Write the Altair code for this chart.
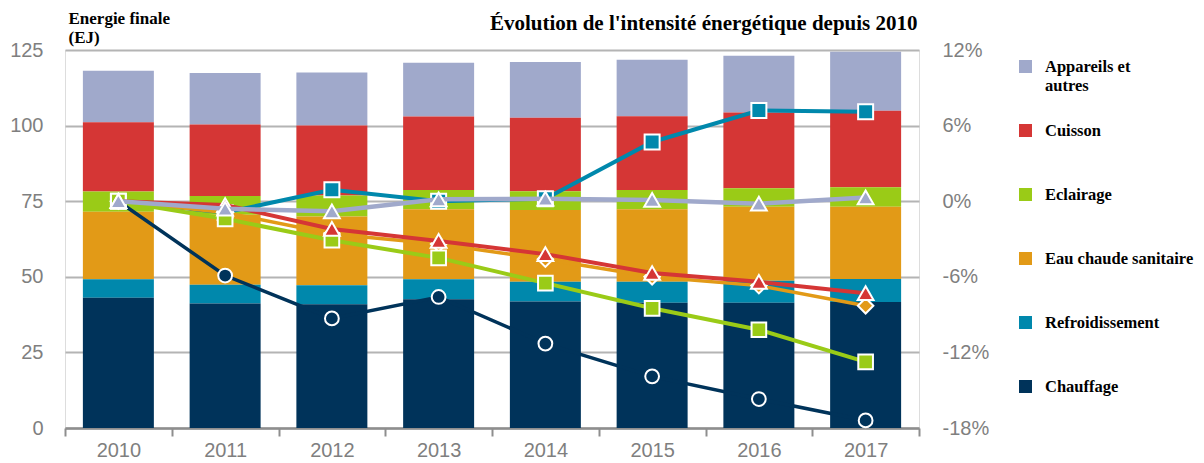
import altair as alt
import pandas as pd

# ---------------- data ----------------
years = ["2010", "2011", "2012", "2013", "2014", "2015", "2016", "2017"]

series = ["Appareils et autres", "Cuisson", "Eclairage",
          "Eau chaude sanitaire", "Refroidissement", "Chauffage"]
legend_text = ["Appareils et\nautres", "Cuisson", "Eclairage",
               "Eau chaude sanitaire", "Refroidissement", "Chauffage"]
colors = ["#a0a9cb", "#d53635", "#9acb17", "#e29a17", "#0088ac", "#00335a"]

# final energy by end use (EJ), stacked bars
appareils_ej = [17.0, 17.0, 17.6, 17.8, 18.4, 18.7, 18.8, 19.5]
cuisson_ej = [22.9, 23.7, 23.1, 24.3, 24.3, 24.4, 25.0, 25.3]
eclairage_ej = [6.7, 6.2, 7.0, 6.4, 6.2, 6.4, 6.1, 6.4]
ecs_ej = [22.3, 23.1, 22.7, 23.1, 23.7, 23.9, 24.5, 23.9]
refroid_ej = [6.1, 6.2, 6.3, 6.6, 6.6, 7.0, 7.3, 7.6]
chauffage_ej = [43.1, 41.2, 40.9, 42.6, 41.8, 41.4, 41.4, 41.7]

# evolution of energy intensity since 2010 (%)
appareils_pct = [0.0, -0.6, -0.8, 0.15, 0.2, 0.1, -0.2, 0.3]
cuisson_pct = [0.0, -0.3, -2.2, -3.15, -4.2, -5.7, -6.4, -7.3]
eclairage_pct = [0.0, -1.4, -3.1, -4.5, -6.5, -8.5, -10.2, -12.75]
ecs_pct = [0.0, -0.9, -2.6, -3.4, -4.6, -6.0, -6.7, -8.3]
refroid_pct = [0.0, -0.9, 0.9, 0.0, 0.2, 4.7, 7.2, 7.1]
chauffage_pct = [0.0, -5.9, -9.3, -7.6, -11.3, -13.9, -15.7, -17.4]

left_ticks = [0, 25, 50, 75, 100, 125]
right_ticks = [-18, -12, -6, 0, 6, 12]

ej_values = [appareils_ej, cuisson_ej, eclairage_ej, ecs_ej, refroid_ej, chauffage_ej]
pct_values = [appareils_pct, cuisson_pct, eclairage_pct, ecs_pct, refroid_pct, chauffage_pct]

# ---------------- styles ----------------
W, H = 854, 378
SANS = "Liberation Sans"
SERIF = "Liberation Serif"
GREY = "#7f7f7f"

rows = []
for k, (name, vals) in enumerate(zip(series, ej_values)):
    for y, v in zip(years, vals):
        rows.append({"year": y, "name": name, "ej": v, "stack": len(series) - k})
bars_df = pd.DataFrame(rows)

color_scale = alt.Scale(domain=series, range=colors)

x_axis = alt.Axis(title=None, grid=False, tickBand="extent", domainColor="#8e8e8e",
                  domainWidth=2.5, tickColor="#8e8e8e", tickWidth=2, tickSize=8,
                  labelFont=SANS, labelFontSize=20, labelColor=GREY, labelPadding=4,
                  labelAngle=0)
x_enc = alt.X("year:N", sort=years, scale=alt.Scale(paddingInner=0, paddingOuter=0),
              axis=x_axis)

bars = alt.Chart(bars_df).mark_bar(width=alt.RelativeBandSize(0.665)).encode(
    x=x_enc,
    y=alt.Y("ej:Q", stack="zero",
            scale=alt.Scale(domain=[0, 125], nice=False),
            axis=alt.Axis(values=left_ticks, orient="left", domain=False, ticks=False,
                          grid=True, gridColor="#b4b4b4", gridWidth=2,
                          labelFont=SANS, labelFontSize=20, labelColor=GREY,
                          labelPadding=22,
                          title=["Energie finale", "(EJ)"], titleAngle=0,
                          titleAlign="left", titleBaseline="alphabetic",
                          titleX=3, titleY=-27, titleFont=SERIF,
                          titleFontWeight="bold", titleFontSize=17,
                          titleLineHeight=19, titleColor="#000000")),
    color=alt.Color("name:N", scale=color_scale, legend=None),
    order=alt.Order("stack:Q"),
)

right_axis = alt.Axis(values=right_ticks, orient="right", domain=False, ticks=False,
                      grid=False, labelExpr="datum.value + '%'",
                      labelFont=SANS, labelFontSize=20, labelColor=GREY,
                      labelPadding=23,
                      title="Évolution de l'intensité énergétique depuis 2010",
                      titleAngle=0, titleAlign="right", titleBaseline="alphabetic",
                      titleX=-2, titleY=-21, titleFont=SERIF, titleFontWeight="bold",
                      titleFontSize=21, titleColor="#000000")
pct_scale = alt.Scale(domain=[-18, 12], nice=False)

# draw order of lines (bottom -> top)
line_order = ["Chauffage", "Refroidissement", "Eau chaude sanitaire",
              "Eclairage", "Cuisson", "Appareils et autres"]
shapes = {"Chauffage": ("circle", 190, 3.5),
          "Refroidissement": ("square", 225, 4),
          "Eau chaude sanitaire": ("diamond", 240, 3.5),
          "Eclairage": ("square", 215, 4),
          "Cuisson": ("triangle-up", 250, 4),
          "Appareils et autres": ("triangle-up", 250, 4.5)}

line_layers = []
for name in line_order:
    i = series.index(name)
    df = pd.DataFrame({"year": years, "pct": pct_values[i]})
    shape, size, lw = shapes[name]
    base = alt.Chart(df).encode(
        x=x_enc,
        y=alt.Y("pct:Q", scale=pct_scale, axis=right_axis),
    )
    line_layers.append(base.mark_line(color=colors[i], strokeWidth=lw))
    line_layers.append(base.mark_point(shape=shape, size=size, fill=colors[i],
                                       fillOpacity=1, opacity=1, stroke="white",
                                       strokeWidth=2))
lines = alt.layer(*line_layers)

# legend (built from the series list)
leg_df = pd.DataFrame({"name": series, "label": legend_text})
leg_y = alt.Y("name:N", sort=series, axis=None,
              scale=alt.Scale(type="point", domain=series, range=[16.5, 336.5], padding=0))
leg_sym = alt.Chart(leg_df).mark_square(size=169, opacity=1).encode(
    x=alt.value(960.5), y=leg_y,
    color=alt.Color("name:N", scale=color_scale, legend=None))
leg_txt = alt.Chart(leg_df).mark_text(align="left", baseline="alphabetic", dy=5,
                                      lineBreak="\n", lineHeight=19, font=SERIF,
                                      fontWeight="bold", fontSize=16.5,
                                      color="#000000").encode(
    x=alt.value(980), y=leg_y, text="label:N")
legend = alt.layer(leg_sym, leg_txt)

chart = alt.layer(bars, lines, legend).resolve_scale(
    y="independent", color="shared"
).properties(
    width=W, height=H,
    autosize=alt.AutoSizeParams(type="none"),
    padding={"left": 57, "top": 42, "right": 277, "bottom": 35},
).configure_view(stroke=None).configure(background="white")

chart.save("out.html", embed_options={"renderer": "svg", "actions": False})
